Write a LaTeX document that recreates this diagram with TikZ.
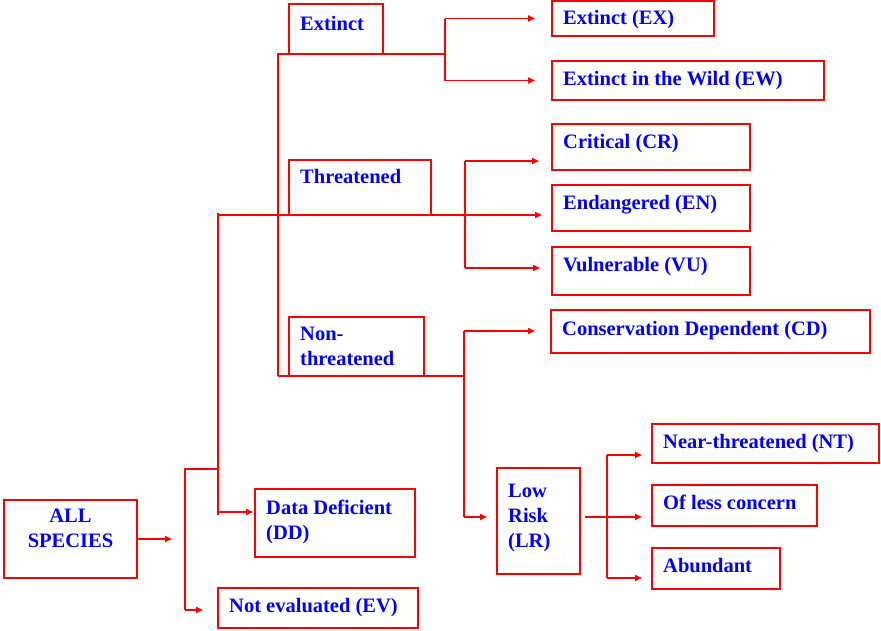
\documentclass[tikz,border=0pt]{standalone}
\usepackage{fontspec}
\setmainfont{Liberation Serif}
\usetikzlibrary{arrows.meta}
\begin{document}
\begin{tikzpicture}[x=1pt,y=-1pt,
  box/.style={draw=red, line width=2.2pt, inner sep=0pt, outer sep=0pt, anchor=north west},
  lbl/.style={text=blue, font=\bfseries\fontsize{20.5}{25}\selectfont, anchor=base west, inner sep=0pt, align=left},
  ln/.style={draw=red, line width=1.8pt},
  arr/.style={ln, -{Triangle[length=7pt,width=6pt]}}]
\useasboundingbox (0,0) rectangle (881,630);
% boxes
\newcommand{\mkbox}[7][-24pt]{%
  \node[box, minimum width={(#5)-(#3)}, minimum height={(#6)-(#4)}] (#2) at (#3,#4) {};
  \node[lbl] (#2-t) at ([xshift=11pt, yshift=#1]#2.north west) {#7};}
\node[box, minimum width=133pt, minimum height=78pt] (all) at (4,500) {};
\node[lbl, anchor=center, align=center] (all-t) at ([yshift=11pt]all.center) {ALL\\SPECIES};
\mkbox[-50pt]{dd}{255}{489}{415}{557}{Data Deficient\\(DD)}
\mkbox{ev}{218}{588}{418}{628}{Not evaluated (EV)}
\mkbox[-26pt]{ext}{289}{4}{383}{54}{Extinct}
\mkbox[-23pt]{thr}{289}{160}{431}{215}{Threatened}
\mkbox[-48pt]{non}{289}{317}{424}{376}{Non-\\threatened}
\mkbox[-23pt]{ex}{552}{1}{714}{36}{Extinct (EX)}
\mkbox{ew}{552}{61}{824}{100}{Extinct in the Wild (EW)}
\mkbox{cr}{552}{124}{750}{170}{Critical (CR)}
\mkbox{en}{552}{185}{750}{231}{Endangered (EN)}
\mkbox{vu}{552}{247}{750}{295}{Vulnerable (VU)}
\mkbox[-25pt]{cd}{551}{310}{870}{353}{Conservation Dependent (CD)}
\mkbox[-79pt]{lr}{497}{468}{580}{574}{Low\\Risk\\(LR)}
\mkbox{nt}{652}{424}{879}{463}{Near-threatened (NT)}
\mkbox{olc}{652}{485}{817}{526}{Of less concern}
\mkbox{ab}{652}{548}{780}{589}{Abundant}
% junction coordinates
\coordinate (a0) at (172,539);
\coordinate (b1) at (185,469);
\coordinate (b2) at (185,610);
\coordinate (v1) at (218,215);
\coordinate (v1b) at (218,515);
\coordinate (ddin) at (218,512);
\coordinate (x2) at (278,54);
\coordinate (jx) at (445,54);
\coordinate (t1) at (465,161);
\coordinate (t2) at (465,268);
\coordinate (n0) at (464,376);
\coordinate (n1) at (464,331);
\coordinate (n2) at (464,517);
\coordinate (l0) at (585,517);
\coordinate (l1) at (607,455);
\coordinate (l2) at (607,578);
% connectors
\draw[arr] (all.east) -- (a0);
\draw[ln] (b1 -| v1) -- (b1) -- (b2);
\draw[arr, shorten >=15pt] (b2) -- (b2 -| ev.west);
\draw[ln] ([yshift=2pt]v1) -- (v1b);
\draw[arr, shorten >=2pt] (ddin) -- (ddin -| dd.west);
\draw[arr, shorten >=10pt] (v1) -- (v1 -| en.west);
\draw[ln] (x2 |- n0) -- (x2) -- (jx);
\draw[ln] (ex.west -| jx) -- (ew.west -| jx);
\draw[arr, shorten >=17pt] (ex.west -| jx) -- (ex.west);
\draw[arr, shorten >=17pt] (ew.west -| jx) -- (ew.west);
\draw[ln] (t1) -- (t2);
\draw[arr, shorten >=13pt] (t1) -- (t1 -| cr.west);
\draw[arr, shorten >=12pt] (t2) -- (t2 -| vu.west);
\draw[ln] (x2 |- n0) -- (n0);
\draw[ln] (n1) -- (n2);
\draw[arr, shorten >=16pt] (n1) -- (n1 -| cd.west);
\draw[arr, shorten >=10pt] (n2) -- (n2 -| lr.west);
\draw[arr, shorten >=10pt] (l0) -- (l0 -| olc.west);
\draw[ln] (l1) -- (l2);
\draw[arr, shorten >=10pt] (l1) -- (l1 -| nt.west);
\draw[arr, shorten >=10pt] (l2) -- (l2 -| ab.west);
\end{tikzpicture}
\end{document}
